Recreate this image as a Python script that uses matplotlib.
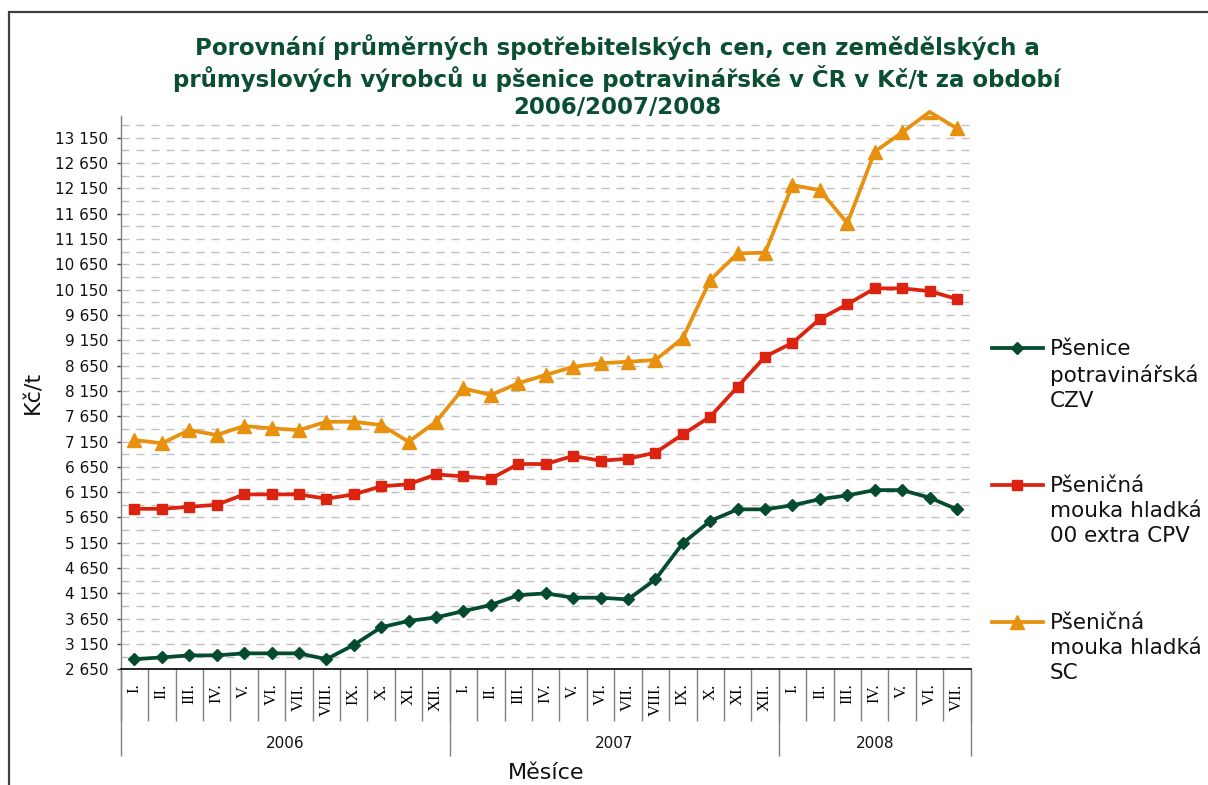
import matplotlib
matplotlib.use("Agg")
import matplotlib.pyplot as plt
from matplotlib.lines import Line2D
from matplotlib.patches import Rectangle
from matplotlib.ticker import FixedLocator, MultipleLocator, FuncFormatter, NullFormatter

# ---------------- data ----------------
years = ["2006", "2007", "2008"]
months_per_year = [12, 12, 7]
month_names = ["I.", "II.", "III.", "IV.", "V.", "VI.", "VII.", "VIII.", "IX.", "X.", "XI.", "XII."]

series_names = [
    "Pšenice\npotravinářská\nCZV",
    "Pšeničná\nmouka hladká\n00 extra CPV",
    "Pšeničná\nmouka hladká\nSC",
]

psenice_czv = [2850, 2885, 2925, 2925, 2965, 2965, 2965, 2850, 3130, 3480, 3605, 3675,
               3800, 3920, 4115, 4150, 4065, 4065, 4030, 4425, 5140, 5580, 5810, 5810,
               5890, 6010, 6085, 6190, 6190, 6040, 5810]
mouka_00_cpv = [5820, 5820, 5860, 5900, 6105, 6105, 6105, 6020, 6105, 6265, 6305, 6500,
                6460, 6415, 6705, 6705, 6865, 6770, 6810, 6930, 7290, 7640, 8230, 8825,
                9100, 9570, 9860, 10175, 10175, 10120, 9965]
mouka_sc = [7180, 7115, 7375, 7280, 7455, 7410, 7375, 7540, 7540, 7475, 7145, 7540,
            8200, 8070, 8300, 8465, 8625, 8695, 8725, 8760, 9190, 10340, 10865, 10880,
            12215, 12115, 11460, 12875, 13255, 13660, 13335]

y_ticks = [2650, 3150, 3650, 4150, 4650, 5150, 5650, 6150, 6650, 7150, 7650, 8150,
           8650, 9150, 9650, 10150, 10650, 11150, 11650, 12150, 12650, 13150]

# ---------------- styling ----------------
W, H = 1208, 785
DPI = 100
green = "#054B30"
red = "#DC230F"
orange = "#E8910F"
title_color = "#0A4F33"

plt.rcParams['font.family'] = ['DejaVu Sans']

fig = plt.figure(figsize=(W / DPI, H / DPI), dpi=DPI)
fig.patch.set_facecolor("white")

ax_left, ax_right = 120.7, 970.7
ax_top, ax_bottom = 116.0, 669.3
ax = fig.add_axes([ax_left / W, 1 - ax_bottom / H, (ax_right - ax_left) / W, (ax_bottom - ax_top) / H])

labels = []
for yi, n in enumerate(months_per_year):
    labels += month_names[:n]
n_cat = len(labels)
xs = [i + 0.5 for i in range(n_cat)]

styles = [
    (psenice_czv, green, "D", 6.3),
    (mouka_00_cpv, red, "s", 7.8),
    (mouka_sc, orange, "^", 9.4),
]
lw = 2.7
for vals, col, mk, ms in styles:
    ax.plot(xs, vals, color=col, lw=lw, clip_on=False, zorder=3, solid_joinstyle="miter")
    ax.plot(xs, vals, color=col, lw=0, marker=mk, markersize=ms, markeredgecolor=col,
            clip_on=True, zorder=4)

ax.set_xlim(0, n_cat)
ax.set_ylim(2650, 13580)

# y axis
ax.yaxis.set_major_locator(FixedLocator(y_ticks))
ax.yaxis.set_major_formatter(FuncFormatter(lambda v, p: f"{int(v):,}".replace(",", " ")))
ax.yaxis.set_minor_locator(MultipleLocator(250, offset=150))
ax.tick_params(axis="y", which="major", length=2.7, width=1, color="#404040",
               labelsize=11, pad=6.3, labelcolor="#111111")
ax.tick_params(axis="y", which="minor", length=0)
ax.yaxis.grid(True, which="both", color="#C0C0C0", lw=1.0, linestyle=(0, (5.8, 5.0)))
ax.set_axisbelow(True)

# x axis: boundaries as major ticks, labels at minor (centres)
ax.xaxis.set_major_locator(FixedLocator(list(range(n_cat + 1))))
ax.xaxis.set_major_formatter(NullFormatter())
ax.xaxis.set_minor_locator(FixedLocator(xs))
ax.xaxis.set_minor_formatter(FuncFormatter(lambda v, p: labels[int(v)]))
sep_len_px = 721.7 - ax_bottom
ax.tick_params(axis="x", which="major", length=sep_len_px * 72 / DPI, width=1, color="#808080",
               direction="out")
ax.tick_params(axis="x", which="minor", length=0, pad=(683.5 - ax_bottom) * 72 / DPI,
               labelsize=12, labelrotation=90)
for t in ax.xaxis.get_minorticklabels():
    t.set_family("Liberation Serif")
    t.set_verticalalignment("top")

for s in ["top", "right"]:
    ax.spines[s].set_visible(False)
ax.spines["left"].set_color("#808080")
ax.spines["left"].set_linewidth(1.0)
ax.spines["bottom"].set_color("#000000")
ax.spines["bottom"].set_linewidth(1.2)

# year groups
axh = ax_bottom - ax_top
bounds = [0]
for n in months_per_year:
    bounds.append(bounds[-1] + n)
ax.vlines(bounds, 0, -(755.7 - ax_bottom) / axh, transform=ax.get_xaxis_transform(),
          color="#808080", lw=1.0, clip_on=False)
for i, yr in enumerate(years):
    ax.text((bounds[i] + bounds[i + 1]) / 2, -(744 - ax_bottom) / axh, yr,
            transform=ax.get_xaxis_transform(), ha="center", va="center", fontsize=11,
            color="#111111")

# axis titles
fig.text(33 / W, 1 - 392 / H, "Kč/t", rotation=90, ha="center", va="center", fontsize=16,
         color="#111111")
fig.text((ax_left + ax_right) / 2 / W, 1 - 773 / H, "Měsíce", ha="center", va="center",
         fontsize=16, color="#111111")

# title
fig.text(617 / W, 1 - 76.5 / H,
         "Porovnání průměrných spotřebitelských cen, cen zemědělských a\n"
         "průmyslových výrobců u pšenice potravinářské v ČR v Kč/t za období\n"
         "2006/2007/2008",
         ha="center", va="center", fontsize=16.5, fontweight="bold", color=title_color,
         linespacing=1.22)

# legend (manual)
leg_y = [347.7, 484.7, 621.7]
for (vals, col, mk, ms), name, yy in zip(styles, series_names, leg_y):
    fy = 1 - yy / H
    fig.add_artist(Line2D([991.7 / W, 1043 / W], [fy, fy], color=col, lw=lw,
                          transform=fig.transFigure))
    fig.add_artist(Line2D([1017.3 / W], [fy], color=col, lw=0, marker=mk, markersize=ms,
                          markeredgecolor=col, transform=fig.transFigure))
    fig.text(1050 / W, 1 - (yy - 9) / H, name, ha="left", va="top", fontsize=15.5,
             color="#111111", linespacing=1.31)

# chart area border
fig.patches.append(Rectangle((9 / W, -0.5), 2.0, 0.5 + 1 - 12 / H, transform=fig.transFigure,
                             fill=False, edgecolor="#404040", lw=1.6, figure=fig))

fig.savefig("out.png", dpi=DPI)
